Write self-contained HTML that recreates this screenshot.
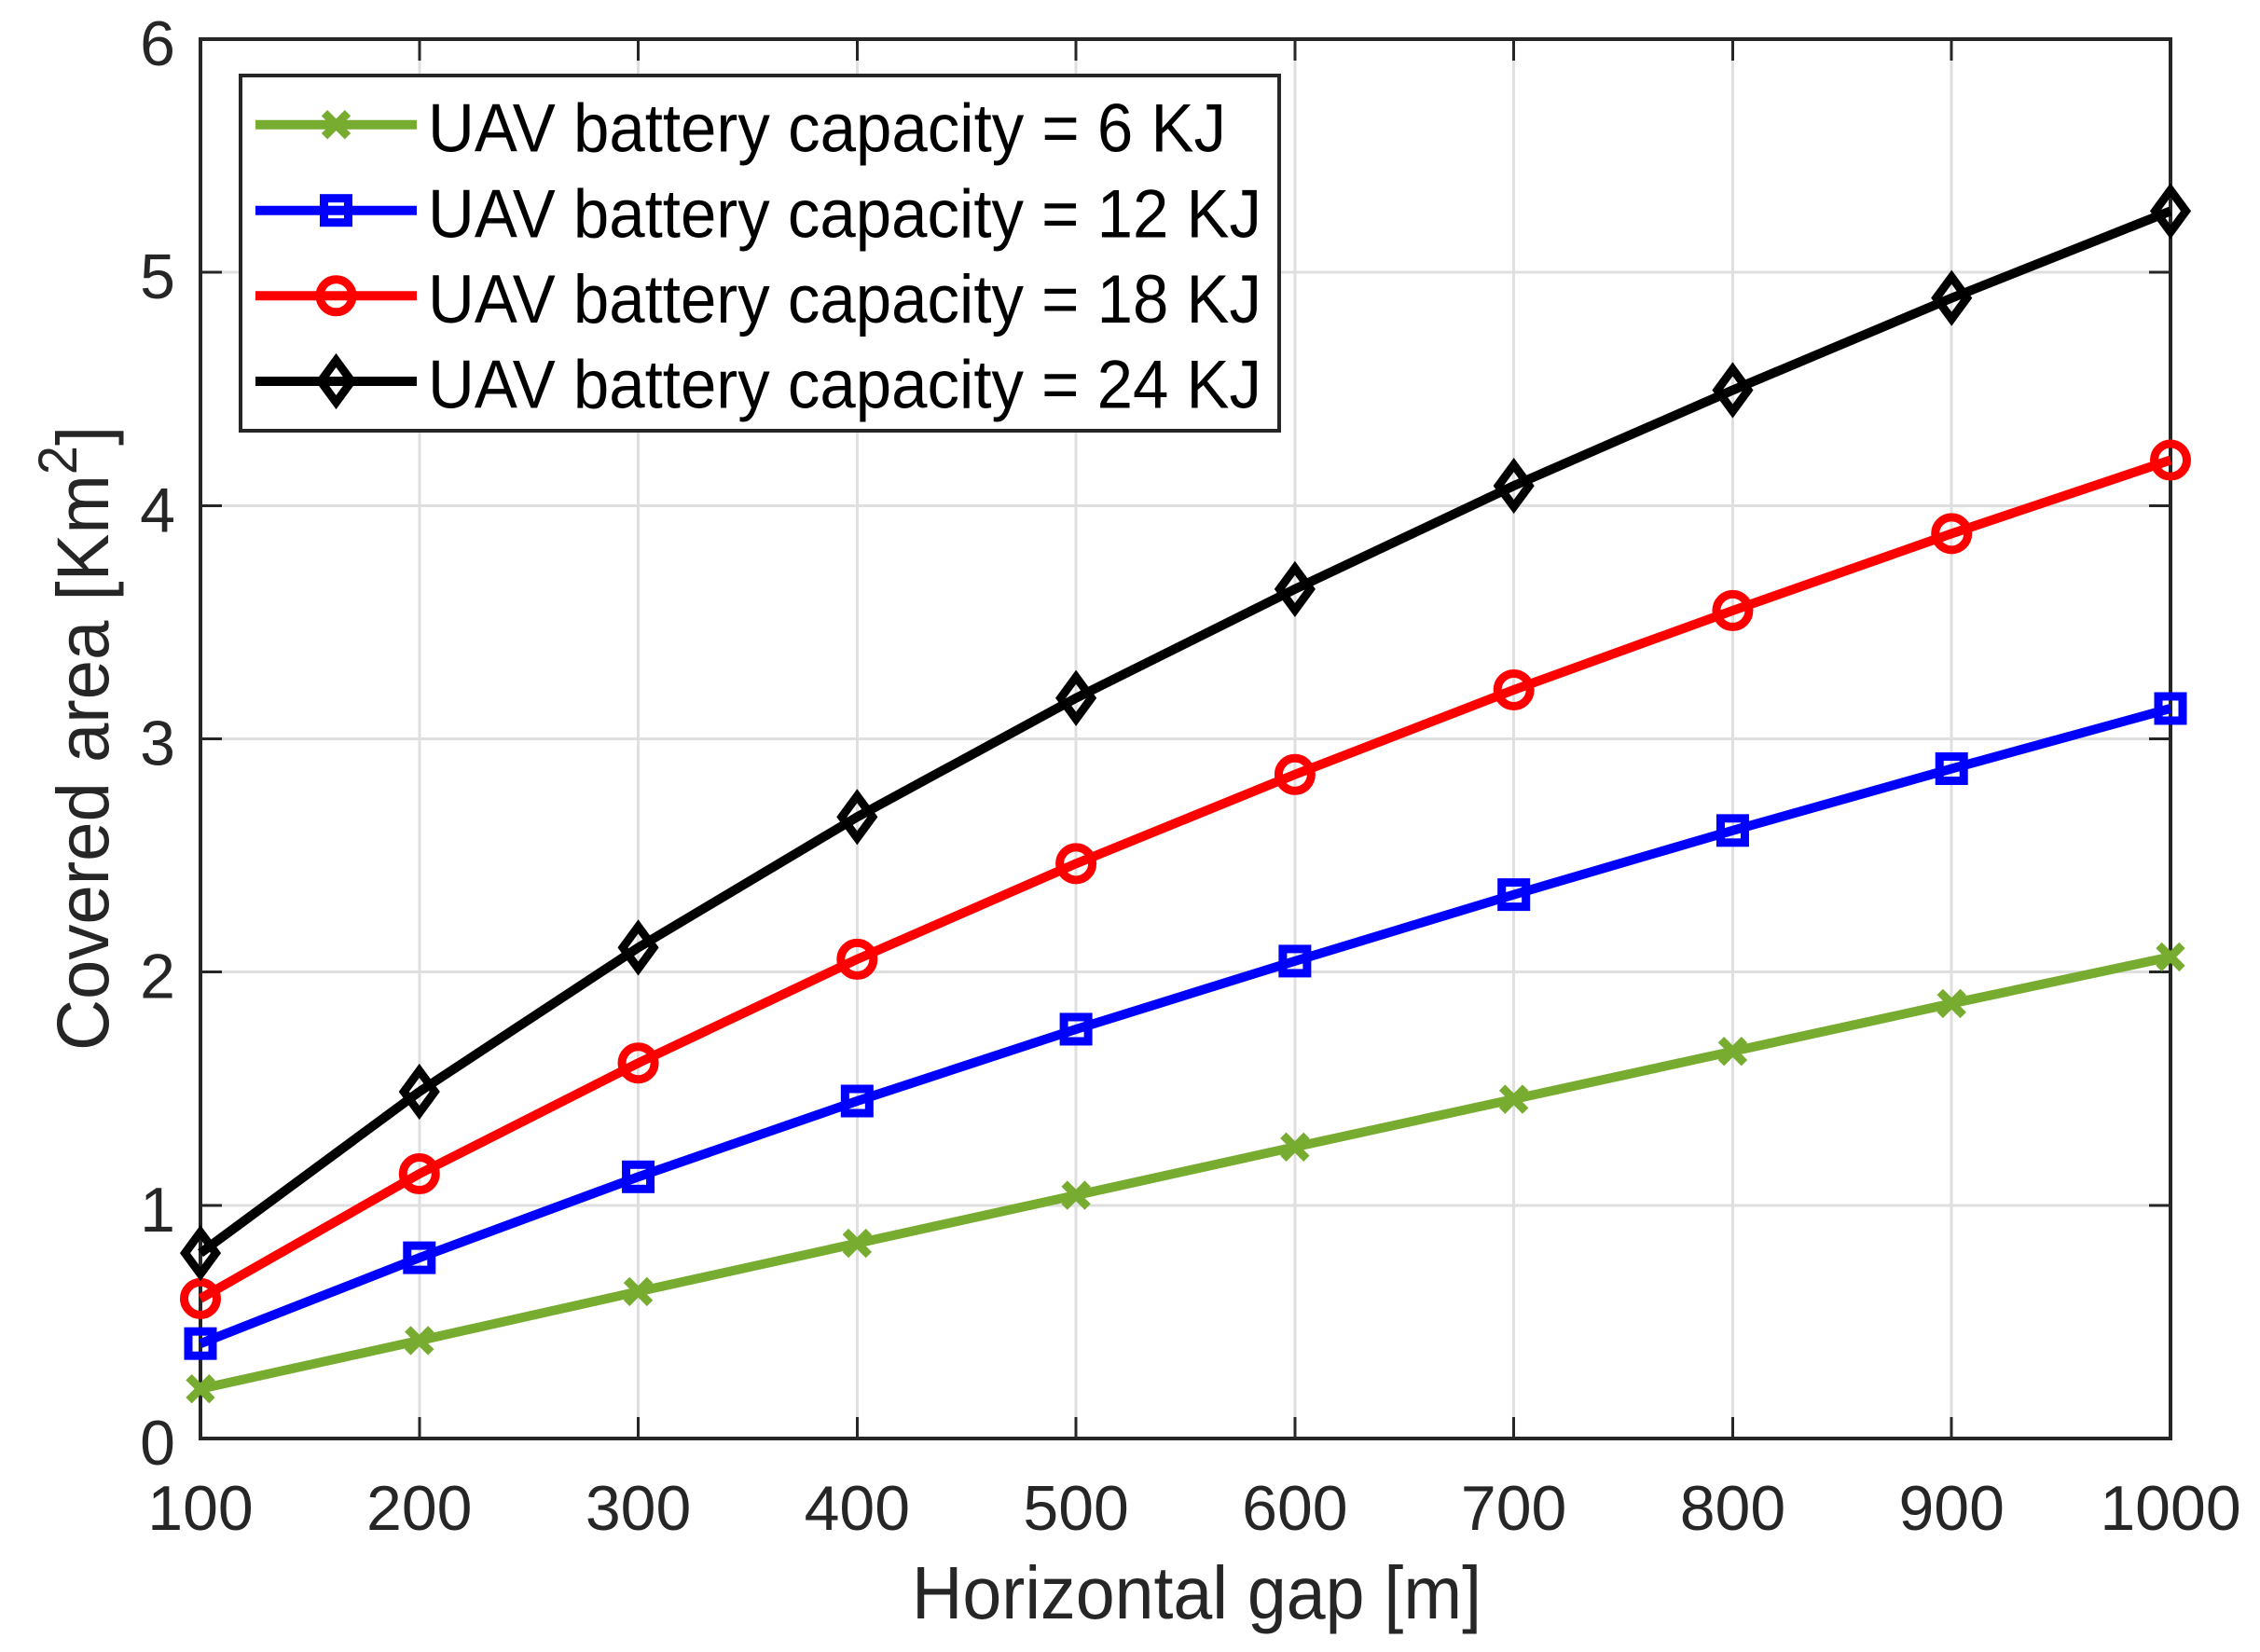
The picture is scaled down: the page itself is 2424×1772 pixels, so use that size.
<!DOCTYPE html>
<html lang="en">
<head>
<meta charset="utf-8">
<title>Covered area vs horizontal gap</title>
<style>
html,body{margin:0;padding:0;background:#fff;width:2424px;height:1772px;overflow:hidden}
svg{display:block}
text{font-family:"Liberation Sans",Arial,sans-serif}
</style>
</head>
<body>
<svg id="chart" xmlns="http://www.w3.org/2000/svg" width="2424" height="1772" viewBox="0 0 2424 1772">
  <rect x="0" y="0" width="2424" height="1772" fill="#fff"/>
  <g id="grid" shape-rendering="crispEdges"></g>
  <g id="ticks" shape-rendering="crispEdges"></g>
  <rect x="215" y="42" width="2113" height="1501" fill="none" stroke="#262626" stroke-width="4" shape-rendering="crispEdges"/>
  <g id="tick-labels"></g>
  <g id="series"></g>
  <text x="978" y="1736" font-size="80" fill="#262626" textLength="611" lengthAdjust="spacingAndGlyphs">Horizontal gap [m]</text>
  <text transform="translate(116,1127) rotate(-90) scale(0.964,1)" font-size="79" fill="#262626">Covered area [Km<tspan font-size="58" dy="-34">2</tspan><tspan dy="34">]</tspan></text>
  <g>
    <rect x="258" y="81" width="1114" height="381" fill="#fff" stroke="#262626" stroke-width="4" shape-rendering="crispEdges"/>
    <g id="legend-keys"></g>
    <text x="459" y="162.5" font-size="73" fill="#000" textLength="856" lengthAdjust="spacingAndGlyphs">UAV battery capacity = 6 KJ</text>
    <text x="459" y="254.5" font-size="73" fill="#000" textLength="894" lengthAdjust="spacingAndGlyphs">UAV battery capacity = 12 KJ</text>
    <text x="459" y="346" font-size="73" fill="#000" textLength="894" lengthAdjust="spacingAndGlyphs">UAV battery capacity = 18 KJ</text>
    <text x="459" y="437.5" font-size="73" fill="#000" textLength="894" lengthAdjust="spacingAndGlyphs">UAV battery capacity = 24 KJ</text>
  </g>
</svg>
<script>
var gaps = [100, 200, 300, 400, 500, 600, 700, 800, 900, 1000];
var yTicks = [0, 1, 2, 3, 4, 5, 6];
var capacity6 = [0.213, 0.42, 0.63, 0.837, 1.043, 1.25, 1.455, 1.66, 1.865, 2.065];
var capacity12 = [0.407, 0.775, 1.122, 1.447, 1.755, 2.047, 2.332, 2.607, 2.872, 3.13];
var capacity18 = [0.6, 1.135, 1.61, 2.055, 2.465, 2.847, 3.21, 3.55, 3.88, 4.195];
var capacity24 = [0.795, 1.487, 2.105, 2.665, 3.175, 3.642, 4.085, 4.495, 4.89, 5.263];

var NS = 'http://www.w3.org/2000/svg';
var plot = {left: 215, right: 2328, top: 42, bottom: 1543};
function xScale(v) { return plot.left + (v - 100) / 900 * (plot.right - plot.left); }
function yScale(v) { return plot.bottom - v / 6 * (plot.bottom - plot.top); }
function make(tag, attrs, parent) {
  var el = document.createElementNS(NS, tag);
  for (var k in attrs) el.setAttribute(k, attrs[k]);
  parent.appendChild(el);
  return el;
}

var gridG = document.getElementById('grid');
var ticksG = document.getElementById('ticks');
var labelsG = document.getElementById('tick-labels');

gaps.forEach(function (v) {
  var x = xScale(v);
  var g = make('line', {x1: x, x2: x, y1: plot.top, y2: plot.bottom, stroke: '#dfdfdf', 'stroke-width': 3}, gridG);
  
  
  var t1 = make('line', {x1: x, x2: x, y1: plot.bottom, y2: plot.bottom - 23, stroke: '#262626', 'stroke-width': 3}, ticksG);
  
  
  var t2 = make('line', {x1: x, x2: x, y1: plot.top, y2: plot.top + 23, stroke: '#262626', 'stroke-width': 3}, ticksG);
  
  
  var lab = make('text', {x: x, y: 1641, 'font-size': 68, fill: '#262626', 'text-anchor': 'middle'}, labelsG);
  
  
  lab.textContent = String(v);
});

yTicks.forEach(function (v) {
  var y = yScale(v);
  var g = make('line', {x1: plot.left, x2: plot.right, y1: y, y2: y, stroke: '#dfdfdf', 'stroke-width': 3}, gridG);
  
  
  var t1 = make('line', {x1: plot.left, x2: plot.left + 23, y1: y, y2: y, stroke: '#262626', 'stroke-width': 3}, ticksG);
  
  
  var t2 = make('line', {x1: plot.right, x2: plot.right - 23, y1: y, y2: y, stroke: '#262626', 'stroke-width': 3}, ticksG);
  
  
  var lab = make('text', {x: 188, y: y + 28, 'font-size': 68, fill: '#262626', 'text-anchor': 'end'}, labelsG);
  
  
  lab.textContent = String(v);
});

function drawMarker(kind, cx, cy, color, parent) {
  var m;
  if (kind === 'x') {
    var r = 12.5;
    m = make('path', {d: 'M' + (cx - r) + ' ' + (cy - r) + 'L' + (cx + r) + ' ' + (cy + r) + 'M' + (cx - r) + ' ' + (cy + r) + 'L' + (cx + r) + ' ' + (cy - r), fill: 'none', stroke: color, 'stroke-width': 9}, parent);
  } else if (kind === 'square') {
    m = make('rect', {x: cx - 13, y: cy - 13, width: 26, height: 26, fill: 'none', stroke: color, 'stroke-width': 9}, parent);
  } else if (kind === 'circle') {
    m = make('circle', {cx: cx, cy: cy, r: 17.5, fill: 'none', stroke: color, 'stroke-width': 9}, parent);
  } else {
    m = make('path', {d: 'M' + cx + ' ' + (cy - 22.5) + 'L' + (cx + 16.5) + ' ' + cy + 'L' + cx + ' ' + (cy + 22.5) + 'L' + (cx - 16.5) + ' ' + cy + 'Z', fill: 'none', stroke: color, 'stroke-width': 9, 'stroke-miterlimit': 10}, parent);
  }
  
  
}

var seriesG = document.getElementById('series');
function drawSeries(values, color, kind, name) {
  var g = make('g', {}, seriesG);
  
  
  var pts = values.map(function (v, i) { return xScale(gaps[i]) + ',' + yScale(v); }).join(' ');
  var line = make('polyline', {points: pts, fill: 'none', stroke: color, 'stroke-width': 10, 'stroke-linejoin': 'round'}, g);
  
  
  values.forEach(function (v, i) { drawMarker(kind, xScale(gaps[i]), yScale(v), color, g); });
}
drawSeries(capacity6, '#77ac30', 'x', 'series-6kj');
drawSeries(capacity12, '#0000ff', 'square', 'series-12kj');
drawSeries(capacity18, '#ff0000', 'circle', 'series-18kj');
drawSeries(capacity24, '#000000', 'diamond', 'series-24kj');

var keysG = document.getElementById('legend-keys');
function drawKey(y, color, kind, name) {
  var l = make('line', {x1: 274, x2: 447, y1: y, y2: y, stroke: color, 'stroke-width': 10}, keysG);
  
  
  drawMarker(kind, 360.5, y, color, keysG);
}
drawKey(133.7, '#77ac30', 'x', 'legend-key-6kj');
drawKey(225.7, '#0000ff', 'square', 'legend-key-12kj');
drawKey(317.3, '#ff0000', 'circle', 'legend-key-18kj');
drawKey(409, '#000000', 'diamond', 'legend-key-24kj');
</script>
</body>
</html>
